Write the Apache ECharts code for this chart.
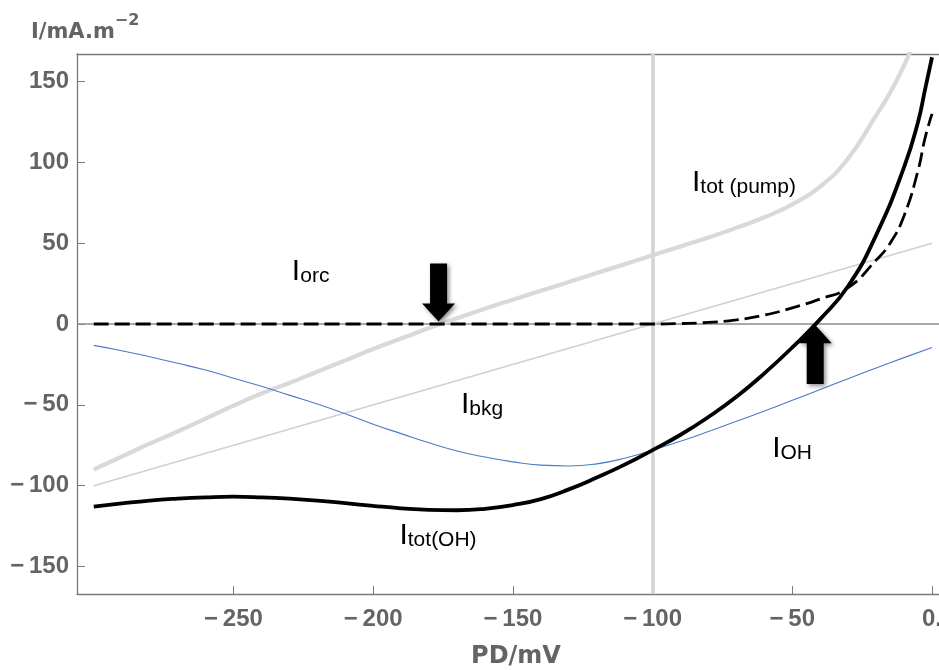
<!DOCTYPE html>
<html>
<head>
<meta charset="utf-8">
<title>I vs PD</title>
<script src="https://cdn.jsdelivr.net/npm/echarts@6/dist/echarts.min.js"></script>
<style>
  html, body { margin: 0; padding: 0; background: #fff; }
  #chart { width: 939px; height: 670px; }
</style>
</head>
<body>
<div id="chart"></div>
<script>
// axis ticks
const xTicks = [-250, -200, -150, -100, -50, 0]
const yTicks = [-150, -100, -50, 0, 50, 100, 150]

// I tot (pump) - thick light grey curve
const pumpX = [-300, -290, -280, -270, -260, -250, -240, -230, -220, -210, -200, -190, -180, -170, -160, -150,
  -140, -130, -120, -110, -100, -90, -80, -70, -60, -50, -40, -30, -20, -15, -10, -6]
const pumpY = [-90, -82, -74, -66.5, -58.5, -50.5, -43, -36.5, -29.5, -22.5, -15.5, -9, -2.5, 3.5, 9.5, 15,
  20.5, 26, 31.5, 37, 42.5, 48, 53.5, 59.5, 66, 74, 85, 102.5, 129, 143, 160, 176]

// I bkg - thin light grey line
const bkgX = [-300, -100, 0]
const bkgY = [-100, 0, 50]

// I OH - thin blue curve
const ohX = [-300, -290, -280, -270, -260, -250, -240, -230, -220, -210, -200, -190, -180, -170, -160, -150,
  -140, -130, -120, -110, -100, -90, -80, -70, -60, -50, -40, -30, -20, -10, 0]
const ohY = [-13.2, -16.5, -20.3, -24.3, -28.5, -33.5, -38.5, -44, -49.5, -55.5, -62, -67.8, -73.5, -78.5, -82.3, -85.3,
  -87.3, -87.8, -86.5, -83, -78, -72.5, -66.5, -60.2, -53.8, -47.2, -40.5, -33.8, -27.2, -20.8, -14.5]

// I tot(OH) - thick black curve
const totX = [-300, -290, -280, -270, -260, -250, -240, -230, -220, -210, -200, -190, -180, -170, -160, -150,
  -140, -130, -120, -110, -100, -90, -80, -70, -60, -50, -40, -30, -20, -10, -5, -2.5, 0]
const totY = [-113, -111, -109.2, -108, -107.2, -106.8, -107.2, -108, -109.2, -110.8, -112.5, -114, -115, -115.2, -114.3, -112,
  -108.3, -102.3, -95, -87, -78, -68.5, -57.5, -45, -30.5, -14.5, 3, 23.5, 55, 97, 125, 145, 165]

// I orc - black dashed curve
const orcX = [-300, -100, -90, -80, -70, -60, -50, -40, -30, -20, -15, -10, -5, -2.5, 0]
const orcY = [0, 0, 0.3, 1, 2.5, 5.5, 10, 15.5, 22.5, 39.5, 50, 67, 95, 115, 130]

const zip = (xs, ys) => xs.map((x, i) => [x, ys[i]])

const axisColor = '#7a7a7a'
const labelColor = '#646464'
const fontFamily = 'Liberation Sans, Arial, sans-serif'
const wideFont = 'DejaVu Sans, sans-serif'

function tickText(v) {
  if (v === 0) return '0'
  return v < 0 ? '\u2212\u2009' + (-v) : String(v)
}

const subRich = {
  a: { fontSize: 30, lineHeight: 30, color: '#000', fontFamily, verticalAlign: 'bottom' },
  b: { fontSize: 21, lineHeight: 14, color: '#000', fontFamily, verticalAlign: 'bottom' }
}

function curveLabel(coord, sub) {
  return {
    coord,
    symbol: 'rect',
    symbolSize: 0,
    itemStyle: { color: 'transparent' },
    label: { show: true, position: 'right', distance: 0, formatter: '{a|I}{b|' + sub + '}', rich: subRich }
  }
}

const arrowStyle = {
  color: '#000',
  shadowBlur: 4,
  shadowColor: 'rgba(0,0,0,0.45)',
  shadowOffsetX: 2,
  shadowOffsetY: 2
}

const chart = echarts.init(document.getElementById('chart'))
chart.setOption({
  animation: false,
  backgroundColor: '#ffffff',
  title: {
    text: '{a|I/mA.m}{b|\u22122}',
    left: 31,
    top: 13,
    padding: 0,
    textStyle: {
      rich: {
        a: { fontSize: 21, lineHeight: 30, fontWeight: 'bold', color: labelColor, fontFamily: wideFont, verticalAlign: 'bottom' },
        b: { fontSize: 16, lineHeight: 10, fontWeight: 'bold', color: labelColor, fontFamily: wideFont, verticalAlign: 'top' }
      }
    }
  },
  grid: {
    left: 77,
    right: 0,
    top: 54,
    bottom: 76,
    outerBoundsMode: 'none'
  },
  xAxis: [{
    type: 'value',
    min: -306,
    max: 2.5,
    name: 'PD/mV',
    nameLocation: 'middle',
    nameGap: 51,
    nameTextStyle: { fontSize: 24, fontWeight: 'bold', color: labelColor, fontFamily: wideFont, padding: [0, 0, 0, 16] },
    axisLine: { show: true, onZero: false, lineStyle: { color: axisColor, width: 1.3 } },
    axisTick: { show: true, inside: true, length: 8, customValues: xTicks, lineStyle: { color: axisColor } },
    axisLabel: {
      customValues: xTicks,
      margin: 13,
      fontSize: 24,
      fontWeight: 'bold',
      color: labelColor,
      fontFamily,
      formatter: v => (v === 0 ? '0.' : tickText(v))
    },
    splitLine: { show: false }
  }, {
    type: 'value',
    position: 'top',
    min: -306,
    max: 2.5,
    axisLine: { show: true, onZero: false, lineStyle: { color: axisColor, width: 1.3 } },
    axisTick: { show: false },
    axisLabel: { show: false },
    splitLine: { show: false }
  }],
  yAxis: {
    type: 'value',
    min: -167,
    max: 167,
    axisLine: { show: true, onZero: false, lineStyle: { color: axisColor, width: 1.3 } },
    axisTick: { show: true, inside: true, length: 8, customValues: yTicks, lineStyle: { color: axisColor } },
    axisLabel: {
      customValues: yTicks,
      margin: 8,
      fontSize: 24,
      fontWeight: 'bold',
      color: labelColor,
      fontFamily,
      formatter: tickText
    },
    splitLine: { show: false }
  },
  series: [
    {
      name: 'I bkg',
      type: 'line',
      z: 1,
      data: zip(bkgX, bkgY),
      showSymbol: false,
      lineStyle: { color: '#d0d0d0', width: 1.5 },
      markLine: {
        silent: true,
        z: 1,
        symbol: 'none',
        label: { show: false },
        data: [
          { yAxis: 0, lineStyle: { color: '#8c8c8c', width: 1.6, type: 'solid' } },
          { xAxis: -100, lineStyle: { color: '#d3d3d3', width: 3.5, type: 'solid' } }
        ]
      }
    },
    {
      name: 'I tot (pump)',
      type: 'line',
      data: zip(pumpX, pumpY),
      showSymbol: false,
      smooth: 0.5,
      lineStyle: { color: '#d9d9d9', width: 4.2 }
    },
    {
      name: 'I OH',
      type: 'line',
      data: zip(ohX, ohY),
      showSymbol: false,
      smooth: 0.5,
      lineStyle: { color: '#4a7cc4', width: 1.1 }
    },
    {
      name: 'I tot(OH)',
      type: 'line',
      data: zip(totX, totY),
      showSymbol: false,
      smooth: 0.5,
      lineStyle: { color: '#000', width: 3.8 }
    },
    {
      name: 'I orc',
      type: 'line',
      data: zip(orcX, orcY),
      showSymbol: false,
      smooth: 0.5,
      lineStyle: { color: '#000', width: 2.8, type: [15, 6] },
      markPoint: {
        silent: true,
        data: [
          {
            coord: [-176.6, 1.5],
            symbol: 'path://M8,0 L25,0 L25,40 L33,40 L16.5,58 L0,40 L8,40 Z',
            symbolSize: [33, 58],
            symbolOffset: [0, '-50%'],
            itemStyle: arrowStyle,
            label: { show: false }
          },
          {
            coord: [-41.8, -0.6],
            symbol: 'path://M8,58 L25,58 L25,18 L33,18 L16.5,0 L0,18 L8,18 Z',
            symbolSize: [33, 59],
            symbolOffset: [0, '50%'],
            itemStyle: arrowStyle,
            label: { show: false }
          },
          curveLabel([-229.1, 32.5], 'orc'),
          curveLabel([-85.9, 87.5], 'tot (pump)'),
          curveLabel([-168.6, -49.8], 'bkg'),
          curveLabel([-190.6, -131.1], 'tot(OH)'),
          curveLabel([-57.2, -77.2], 'OH')
        ]
      }
    }
  ]
})
</script>
</body>
</html>
